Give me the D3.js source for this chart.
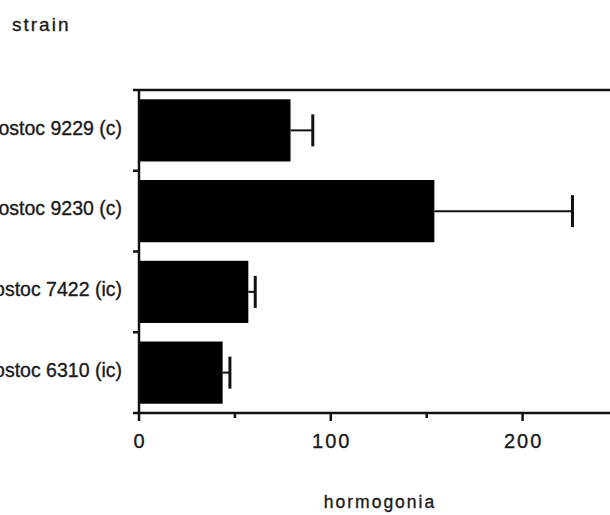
<!DOCTYPE html>
<html>
<head>
<meta charset="utf-8">
<script src="https://cdn.jsdelivr.net/npm/d3@7"></script>
<style>
  body { margin: 0; background: #fff; }
  svg text { font-family: "Liberation Sans", Arial, Helvetica, sans-serif; fill: #1a1a1a; stroke: #1a1a1a; stroke-width: 0.35px; }
</style>
</head>
<body>
<script>
// data
var strains = ["Nostoc 9229 (c)", "Nostoc 9230 (c)", "Nostoc 7422 (ic)", "Nostoc 6310 (ic)"];
var hormogonia = [79, 154, 57, 43.6];
var errors = [11.6, 72, 3.6, 3.8];
var majorTicks = [0, 100, 200];
var minorTicks = [50, 150, 250];

var width = 610, height = 515;
var margin = { top: 90, left: 139, bottom: 102 };

var svg = d3.select("body").append("svg")
    .attr("width", width)
    .attr("height", height);

var x = d3.scaleLinear()
    .domain([0, 260])
    .range([margin.left, margin.left + 260 * 1.918]);

var y = d3.scaleBand()
    .domain(strains)
    .range([margin.top, height - margin.bottom])
    .paddingInner(0.23)
    .paddingOuter(0.115);

var rows = strains.map(function (s, i) {
    return { name: s, value: hormogonia[i], err: errors[i] };
});

// bars
svg.append("g").selectAll("rect")
    .data(rows)
    .enter().append("rect")
    .attr("x", x(0))
    .attr("y", function (d) { return y(d.name); })
    .attr("width", function (d) { return x(d.value) - x(0); })
    .attr("height", y.bandwidth())
    .attr("fill", "#000");

// error bars (one-sided)
var err = svg.append("g").selectAll("g")
    .data(rows)
    .enter().append("g");
err.append("line")
    .attr("x1", function (d) { return x(d.value); })
    .attr("x2", function (d) { return x(d.value + d.err); })
    .attr("y1", function (d) { return y(d.name) + y.bandwidth() / 2; })
    .attr("y2", function (d) { return y(d.name) + y.bandwidth() / 2; })
    .attr("stroke", "#111")
    .attr("stroke-width", 2);
err.append("line")
    .attr("x1", function (d) { return x(d.value + d.err); })
    .attr("x2", function (d) { return x(d.value + d.err); })
    .attr("y1", function (d) { return y(d.name) + y.bandwidth() / 2 - 16; })
    .attr("y2", function (d) { return y(d.name) + y.bandwidth() / 2 + 16; })
    .attr("stroke", "#111")
    .attr("stroke-width", 3);

// frame: y axis line, top line, bottom axis line
var y0 = y.range()[0], y1 = y.range()[1];
var axis = svg.append("g").attr("stroke", "#111").attr("stroke-width", 2.5);
axis.append("line")
    .attr("x1", x(0)).attr("x2", x(0))
    .attr("y1", y0).attr("y2", y1);
axis.append("line")
    .attr("x1", x(0) - 6).attr("x2", x.range()[1])
    .attr("y1", y0).attr("y2", y0);
axis.append("line")
    .attr("x1", x(0) - 6).attr("x2", x.range()[1])
    .attr("y1", y1).attr("y2", y1);

// y ticks on the band boundaries
var step = (y1 - y0) / strains.length;
axis.selectAll(".ytick")
    .data(d3.range(1, strains.length))
    .enter().append("line")
    .attr("class", "ytick")
    .attr("x1", x(0) - 6).attr("x2", x(0))
    .attr("y1", function (i) { return y0 + i * step; })
    .attr("y2", function (i) { return y0 + i * step; });

// x ticks
axis.selectAll(".xmajor")
    .data(majorTicks)
    .enter().append("line")
    .attr("class", "xmajor")
    .attr("x1", function (d) { return x(d); }).attr("x2", function (d) { return x(d); })
    .attr("y1", y1).attr("y2", y1 + 8);
axis.selectAll(".xminor")
    .data(minorTicks)
    .enter().append("line")
    .attr("class", "xminor")
    .attr("x1", function (d) { return x(d); }).attr("x2", function (d) { return x(d); })
    .attr("y1", y1).attr("y2", y1 + 5);

svg.append("g").selectAll("text")
    .data(majorTicks)
    .enter().append("text")
    .attr("x", function (d) { return x(d) + 1; })
    .attr("y", y1 + 35)
    .attr("text-anchor", "middle")
    .style("font-size", "20px")
    .style("letter-spacing", "2px")
    .text(function (d) { return d; });

// category labels
svg.append("g").selectAll("text")
    .data(rows)
    .enter().append("text")
    .attr("x", 122)
    .attr("y", function (d) { return y(d.name) + y.bandwidth() / 2; })
    .attr("dy", "0.22em")
    .attr("text-anchor", "end")
    .style("font-size", "19.5px")
    .text(function (d) { return d.name; });

// titles
svg.append("text")
    .attr("x", 12).attr("y", 31)
    .style("font-size", "19px")
    .style("letter-spacing", "2px")
    .text("strain");

svg.append("text")
    .attr("x", 380).attr("y", 508)
    .attr("text-anchor", "middle")
    .style("font-size", "17.5px")
    .style("letter-spacing", "2px")
    .text("hormogonia");
</script>
</body>
</html>
